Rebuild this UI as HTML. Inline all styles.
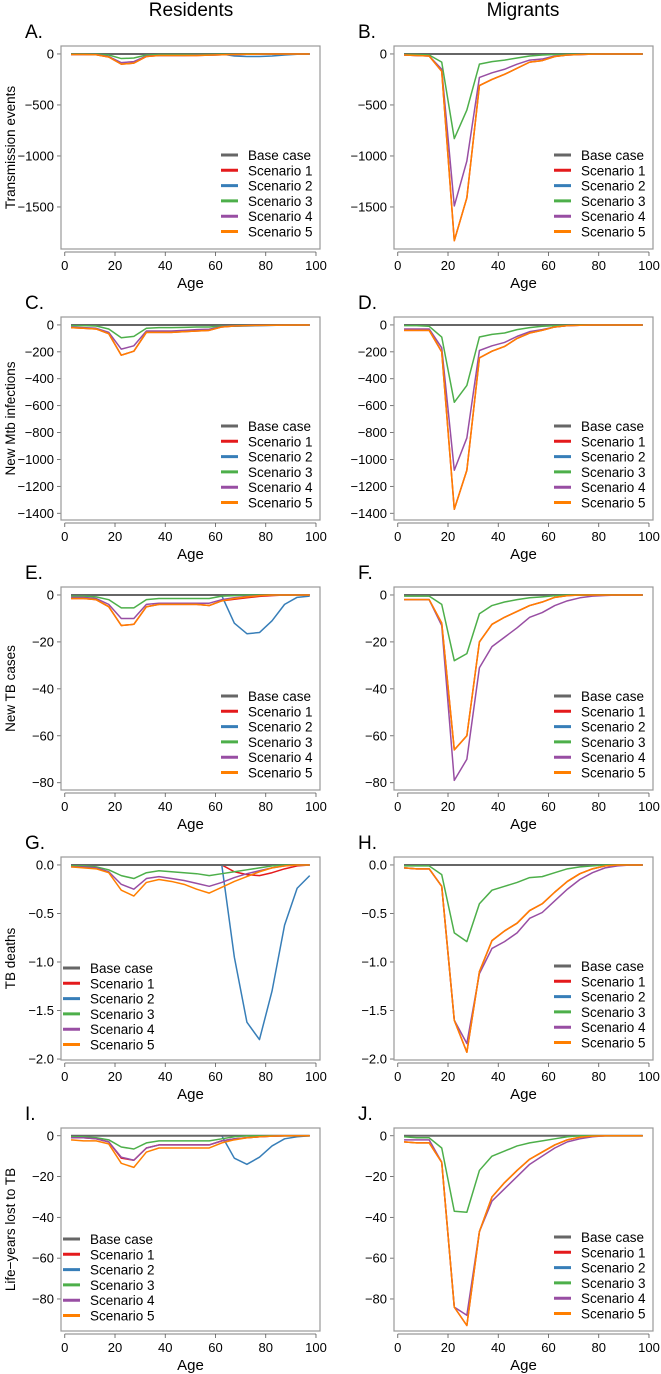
<!DOCTYPE html>
<html><head><meta charset="utf-8">
<style>
html,body{margin:0;padding:0;background:#fff;}
svg{display:block;font-family:"Liberation Sans",Arial,sans-serif;}
</style></head>
<body>
<svg id="chart" width="661" height="1374" viewBox="0 0 661 1374" xmlns="http://www.w3.org/2000/svg">
<text x="191" y="16" font-size="19" text-anchor="middle">Residents</text>
<text x="523" y="16" font-size="19" text-anchor="middle">Migrants</text>
</svg>
<script>
const ages = [2.5,7.5,12.5,17.5,22.5,27.5,32.5,37.5,42.5,47.5,52.5,57.5,62.5,67.5,72.5,77.5,82.5,87.5,92.5,97.5];
const seriesNames = ["Base case","Scenario 1","Scenario 2","Scenario 3","Scenario 4","Scenario 5"];
const zeros = [0,0,0,0,0,0,0,0,0,0,0,0,0,0,0,0,0,0,0,0];

// Panel A: residents transmission events
const aS1 = [-5,-5,-8,-30,-100,-90,-25,-15,-15,-15,-15,-12,-8,-5,-3,-2,-1,0,0,0];
const aS2 = [0,0,0,0,0,0,0,0,0,0,0,0,0,-20,-25,-25,-20,-10,-3,0];
const aS3 = [0,0,0,-10,-45,-40,-10,-5,-5,-5,-5,-5,-3,-2,-1,0,0,0,0,0];
const aS4 = [-5,-5,-5,-25,-85,-75,-20,-15,-15,-15,-12,-12,-8,-5,-3,-2,-1,0,0,0];
const aS5 = [-5,-5,-8,-30,-100,-90,-25,-15,-15,-15,-15,-12,-8,-5,-3,-2,-1,0,0,0];
// Panel B: migrants transmission events
const bS1 = [-10,-15,-20,-170,-1830,-1410,-310,-250,-200,-140,-80,-65,-25,-10,-5,-2,0,0,0,0];
const bS2 = zeros;
const bS3 = [-5,-5,-10,-80,-830,-550,-100,-75,-60,-40,-20,-10,-5,-3,-2,0,0,0,0,0];
const bS4 = [-10,-15,-20,-150,-1490,-1050,-230,-185,-150,-100,-60,-50,-20,-10,-5,-2,0,0,0,0];
const bS5 = [-10,-15,-20,-170,-1830,-1410,-310,-250,-200,-140,-80,-65,-25,-10,-5,-2,0,0,0,0];
// Panel C: residents new Mtb infections
const cS1 = [-20,-25,-30,-65,-225,-195,-55,-55,-55,-50,-45,-40,-15,-8,-5,-3,-2,-1,0,0];
const cS2 = [0,0,0,0,0,0,0,0,0,0,0,0,-5,-10,-8,-5,-3,0,0,0];
const cS3 = [-5,-5,-8,-30,-95,-85,-25,-20,-20,-18,-15,-15,-8,-5,-3,-2,-1,0,0,0];
const cS4 = [-15,-20,-25,-55,-180,-155,-45,-45,-45,-40,-35,-32,-12,-6,-4,-2,-1,0,0,0];
const cS5 = [-20,-25,-30,-65,-225,-195,-55,-55,-55,-50,-45,-40,-15,-8,-5,-3,-2,-1,0,0];
// Panel D: migrants new Mtb infections
const dS1 = [-40,-40,-40,-200,-1370,-1080,-245,-195,-160,-100,-60,-40,-15,-5,-2,0,0,0,0,0];
const dS2 = zeros;
const dS3 = [-5,-5,-10,-90,-575,-450,-90,-70,-60,-35,-20,-10,-5,-2,0,0,0,0,0,0];
const dS4 = [-30,-30,-30,-170,-1080,-840,-190,-155,-130,-85,-50,-35,-15,-5,-2,0,0,0,0,0];
const dS5 = [-40,-40,-40,-200,-1370,-1080,-245,-195,-160,-100,-60,-40,-15,-5,-2,0,0,0,0,0];
// Panel E: residents new TB cases
const eS1 = [-1.5,-1.5,-2,-5,-13,-12.5,-5,-4,-4,-4,-4,-4.5,-2.5,-1.8,-1.2,-0.6,-0.3,0,0,0];
const eS2 = [0,0,0,0,0,0,0,0,0,0,0,0,-0.3,-12,-16.5,-16,-11,-4,-1,-0.5];
const eS3 = [-0.5,-0.5,-0.8,-2,-5.5,-5.5,-2,-1.5,-1.5,-1.5,-1.5,-1.5,-0.5,-0.3,0,0,0,0,0,0];
const eS4 = [-1,-1,-1.5,-4,-10,-10,-4,-3.5,-3.5,-3.5,-3.5,-3.5,-2,-1.2,-0.6,-0.3,0,0,0,0];
const eS5 = [-1.5,-1.5,-2,-5,-13,-12.5,-5,-4,-4,-4,-4,-4.5,-2.5,-1.5,-0.8,-0.3,0,0,0,0];
// Panel F: migrants new TB cases
const fS1 = [-2,-2,-2,-12,-66,-60,-20,-12.5,-9.5,-7,-4.5,-3,-1,-0.3,0,0,0,0,0,0];
const fS2 = zeros;
const fS3 = [-0.5,-0.5,-0.5,-4,-28,-25,-8,-4.5,-3,-2,-1.2,-0.8,-0.3,0,0,0,0,0,0,0];
const fS4 = [-2,-2,-2,-13,-79,-70,-31,-22,-18,-14,-9.5,-7.5,-4.5,-2.5,-1.2,-0.5,-0.2,0,0,0];
const fS5 = [-2,-2,-2,-12,-66,-60,-20,-12.5,-9.5,-7,-4.5,-3,-1,-0.3,0,0,0,0,0,0];
// Panel G: residents TB deaths
const gS1 = [0,0,0,0,0,0,0,0,0,0,0,0,0,-0.07,-0.1,-0.11,-0.08,-0.04,-0.01,0];
const gS2 = [0,0,0,0,0,0,0,0,0,0,0,0,0,-0.95,-1.62,-1.8,-1.3,-0.62,-0.24,-0.11];
const gS3 = [-0.01,-0.01,-0.02,-0.05,-0.11,-0.14,-0.08,-0.06,-0.07,-0.08,-0.09,-0.11,-0.09,-0.07,-0.05,-0.03,-0.01,0,0,0];
const gS4 = [-0.02,-0.02,-0.03,-0.07,-0.2,-0.25,-0.14,-0.12,-0.14,-0.16,-0.19,-0.22,-0.18,-0.13,-0.09,-0.06,-0.03,-0.01,0,0];
const gS5 = [-0.02,-0.03,-0.04,-0.08,-0.26,-0.32,-0.18,-0.15,-0.17,-0.2,-0.25,-0.29,-0.23,-0.17,-0.12,-0.07,-0.03,-0.01,0,0];
// Panel H: migrants TB deaths
const hS1 = [-0.03,-0.04,-0.04,-0.22,-1.6,-1.93,-1.1,-0.78,-0.68,-0.6,-0.47,-0.4,-0.28,-0.17,-0.09,-0.04,-0.01,0,0,0];
const hS2 = zeros;
const hS3 = [-0.01,-0.01,-0.01,-0.1,-0.7,-0.79,-0.4,-0.26,-0.22,-0.18,-0.13,-0.12,-0.08,-0.04,-0.02,-0.01,0,0,0,0];
const hS4 = [-0.03,-0.04,-0.04,-0.22,-1.6,-1.84,-1.12,-0.86,-0.79,-0.7,-0.55,-0.49,-0.37,-0.25,-0.15,-0.08,-0.03,-0.01,0,0];
const hS5 = [-0.03,-0.04,-0.04,-0.22,-1.6,-1.93,-1.1,-0.78,-0.68,-0.6,-0.47,-0.4,-0.28,-0.17,-0.09,-0.04,-0.01,0,0,0];
// Panel I: residents life-years lost
const iS1 = [-1,-1,-1.5,-3,-11,-12,-6,-4.5,-4.5,-4.5,-4.5,-4.5,-2.5,-1.5,-1,-0.5,-0.2,0,0,0];
const iS2 = [0,0,0,0,0,0,0,0,0,0,0,0,0,-11,-14,-10.5,-5,-1.5,-0.5,0];
const iS3 = [-0.5,-0.5,-1,-2,-5.5,-6.5,-3.5,-2.5,-2.5,-2.5,-2.5,-2.5,-1.5,-0.5,0,0,0,0,0,0];
const iS4 = [-1,-1,-1.5,-3,-10.5,-12,-6,-4.5,-4.5,-4.5,-4.5,-4.5,-2.5,-1.5,-1,-0.5,-0.2,0,0,0];
const iS5 = [-2,-2.5,-2.5,-4,-13.5,-15.5,-8,-6,-6,-6,-6,-6,-3.5,-2,-1,-0.5,-0.2,0,0,0];
// Panel J: migrants life-years lost
const jS1 = [-3,-3.5,-3.5,-13,-84,-93,-47,-30,-23,-17,-11.5,-8,-4.5,-2,-0.7,-0.2,0,0,0,0];
const jS2 = zeros;
const jS3 = [-0.5,-1,-1,-6,-37,-37.5,-17,-10,-7.5,-5,-3.5,-2.5,-1.5,-0.5,0,0,0,0,0,0];
const jS4 = [-2,-2,-2,-13,-84,-88,-47,-32,-26,-20,-14,-10,-6,-3,-1.5,-0.5,0,0,0,0];
const jS5 = [-3,-3.5,-3.5,-13,-84,-93,-47,-30,-23,-17,-11.5,-8,-4.5,-2,-0.7,-0.2,0,0,0,0];

const xTicks = [0,20,40,60,80,100];
const yTicksTrans = [0,-500,-1000,-1500];
const yTicksInf = [0,-200,-400,-600,-800,-1000,-1200,-1400];
const yTicksCases = [0,-20,-40,-60,-80];
const yTickLabelsCases = ["0","\u221220","\u221240","\u221260","\u221280"];
const yTicksDeaths = [0,-0.5,-1,-1.5,-2];
const yTickLabelsDeaths = ["0.0","\u22120.5","\u22121.0","\u22121.5","\u22122.0"];
const yTicksLife = [0,-20,-40,-60,-80];

const colors = ["#666666","#E41A1C","#377EB8","#4DAF4A","#984EA3","#FF7F00"];
const drawOrder = [1,2,0,3,4,5];
const NS = "http://www.w3.org/2000/svg";
const svg = document.getElementById("chart");
function mk(tag, attrs, parent){ const e=document.createElementNS(NS,tag); for(const k in attrs) e.setAttribute(k,attrs[k]); (parent||svg).appendChild(e); return e; }
function lab(v){ return v===0?"0":(v<0?"\u2212"+Math.abs(v):String(v)); }

const panels = [
 {id:"a",letter:"A.",col:0,row:0,title:"Transmission events",dom:[-1912,78],ticks:yTicksTrans,s:[zeros,aS1,aS2,aS3,aS4,aS5],leg:"right"},
 {id:"b",letter:"B.",col:1,row:0,dom:[-1912,78],ticks:yTicksTrans,s:[zeros,bS1,bS2,bS3,bS4,bS5],leg:"right"},
 {id:"c",letter:"C.",col:0,row:1,title:"New Mtb infections",dom:[-1450,59],ticks:yTicksInf,s:[zeros,cS1,cS2,cS3,cS4,cS5],leg:"right"},
 {id:"d",letter:"D.",col:1,row:1,dom:[-1450,59],ticks:yTicksInf,s:[zeros,dS1,dS2,dS3,dS4,dS5],leg:"right"},
 {id:"e",letter:"E.",col:0,row:2,title:"New TB cases",dom:[-83.1,3.4],ticks:yTicksCases,tl:yTickLabelsCases,s:[zeros,eS1,eS2,eS3,eS4,eS5],leg:"right"},
 {id:"f",letter:"F.",col:1,row:2,dom:[-83.1,3.4],ticks:yTicksCases,tl:yTickLabelsCases,s:[zeros,fS1,fS2,fS3,fS4,fS5],leg:"right"},
 {id:"g",letter:"G.",col:0,row:3,title:"TB deaths",dom:[-2.01,0.082],ticks:yTicksDeaths,tl:yTickLabelsDeaths,s:[zeros,gS1,gS2,gS3,gS4,gS5],leg:"left"},
 {id:"h",letter:"H.",col:1,row:3,dom:[-2.01,0.082],ticks:yTicksDeaths,tl:yTickLabelsDeaths,s:[zeros,hS1,hS2,hS3,hS4,hS5],leg:"right"},
 {id:"i",letter:"I.",col:0,row:4,title:"Life\u2212years lost to TB",dom:[-95.7,3.8],ticks:yTicksLife,s:[zeros,iS1,iS2,iS3,iS4,iS5],leg:"left"},
 {id:"j",letter:"J.",col:1,row:4,dom:[-95.7,3.8],ticks:yTicksLife,s:[zeros,jS1,jS2,jS3,jS4,jS5],leg:"right"}
];
const rowTops = [46,317,587,857,1128];
const colLefts = [61,394];
const W = 259, H = 203;
const xDom = [-1.5,101.6];

panels.forEach(p=>{
  const L = colLefts[p.col], T = rowTops[p.row];
  const xs = v => L + (v - xDom[0]) / (xDom[1]-xDom[0]) * W;
  const ys = v => T + (p.dom[1] - v) / (p.dom[1]-p.dom[0]) * H;
  const g = mk("g",{});
  
  
  const letter = mk("text",{x:L-36,y:T-8,"font-size":19},g); letter.textContent=p.letter;
  
  
  if(p.title){
    const yt = mk("text",{x:0,y:0,"font-size":13.5,"text-anchor":"middle",transform:`translate(15,${T+H/2}) rotate(-90)`},g);
    yt.textContent=p.title;
    
    
  }
  const xa = mk("g",{},g);
  
  
  mk("line",{x1:xs(xTicks[0]),x2:xs(xTicks[xTicks.length-1]),y1:T+H+3,y2:T+H+3,stroke:"#555","stroke-width":0.8},xa);
  xTicks.forEach(t=>{
    mk("line",{x1:xs(t),x2:xs(t),y1:T+H+3,y2:T+H+7,stroke:"#555","stroke-width":0.8},xa);
    const tx = mk("text",{x:xs(t),y:T+H+21,"font-size":13,"text-anchor":"middle"},xa); tx.textContent=t;
  });
  const xl = mk("text",{x:L+W/2,y:T+H+39,"font-size":15,"text-anchor":"middle"},g); xl.textContent="Age";
  
  
  const ya = mk("g",{},g);
  
  
  p.ticks.forEach((t,i)=>{
    mk("line",{x1:L-4,x2:L,y1:ys(t),y2:ys(t),stroke:"#555","stroke-width":0.8},ya);
    const tx = mk("text",{x:L-7,y:ys(t)+4.5,"font-size":13,"text-anchor":"end"},ya);
    tx.textContent = p.tl ? p.tl[i] : lab(t);
  });
  drawOrder.forEach(si=>{
    const arr = p.s[si];
    const d = arr.map((v,i)=>(i?"L":"M")+xs(ages[i]).toFixed(2)+","+ys(v).toFixed(2)).join("");
    const path = mk("path",{d:d,fill:"none",stroke:colors[si],"stroke-width":si===0?2:1.5,"stroke-linejoin":"round"},g);
    
    
  });
  const fr = mk("rect",{x:L,y:T,width:W,height:H,fill:"none",stroke:"#999","stroke-width":1.2},g);
  
  
  const lg = mk("g",{},g);
  
  
  const lx = p.leg==="left" ? L+2 : L+W-99;
  const ly0 = p.leg==="left" ? T+H-92 : T+H-94;
  seriesNames.forEach((n,si)=>{
    const yy = ly0 + si*15.3;
    mk("line",{x1:lx,x2:lx+17,y1:yy,y2:yy,stroke:colors[si],"stroke-width":3},lg);
    const t = mk("text",{x:lx+27,y:yy+5,"font-size":13.5},lg); t.textContent=n;
    
    
  });
});
</script>
</body></html>
